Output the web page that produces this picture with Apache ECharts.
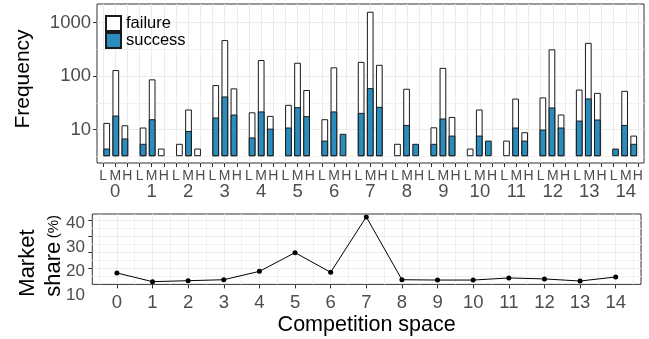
<!DOCTYPE html>
<html><head><meta charset="utf-8">
<script src="https://cdn.jsdelivr.net/npm/echarts@6/dist/echarts.min.js"></script>
<style>html,body{margin:0;padding:0;background:#fff}#c{width:649px;height:339px}</style>
</head><body><div id="c"></div>
<script>
// ---- data ----
const groups = ['0','1','2','3','4','5','6','7','8','9','10','11','12','13','14'];
const levels = ['L','M','H'];
// top of the white (failure) bar per group, for levels L, M, H (null = no white part)
const failureL = [13.3, 10.9, 5.4, 68, 21, 29, 15.6, 185, 5.4, 11.0, 4.4, 6.2, 40, 56, null];
const failureM = [130, 87, 23.7, 473, 200, 178, 146, 1607, 58, 143, 23.7, 38, 317, 421, 53];
const failureH = [12.0, 4.4, 4.4, 59, 18, 55, null, 163, null, 17.2, null, 8.9, 19.1, 48.6, 7.7];
// top of the blue (success) bar per group
const successL = [4.4, 5.4, null, 16.8, 7.1, 10.9, 6.2, 20.5, null, 5.4, null, null, 10.0, 14.7, 4.4];
const successM = [18.3, 15.6, 9.4, 41.6, 21.8, 26.2, 21.8, 59.6, 12.2, 16.1, 7.7, 10.9, 25.9, 38.2, 12.2];
const successH = [6.8, null, null, 19.1, 10.4, 17.8, 8.3, 26.6, 5.4, 7.7, 6.2, 6.2, 10.9, 15.4, 5.4];
// market share (%) per competition space
const marketShare = [7.1, 1.7, 2.3, 2.9, 8.1, 19.7, 7.5, 41.9, 2.9, 2.7, 2.7, 4.0, 3.4, 2.1, 4.6];
// tick labels
const freqTicks = [10, 100, 1000];
const shareTicks = [10, 20, 30, 40];

// ---- build ----
const FONT = '"Liberation Sans", Arial, Helvetica, sans-serif';
const failureByLevel = [failureL, failureM, failureH];
const successByLevel = [successL, successM, successH];
const cats = [];
const failureData = [];
const successData = [];
groups.forEach((g, gi) => {
  levels.forEach((l, li) => {
    cats.push(l + g);
    const x = gi * 4 + li;
    const f = failureByLevel[li][gi];
    const s = successByLevel[li][gi];
    if (f != null) failureData.push([x, f]);
    if (s != null) successData.push([x, s]);
  });
});
const groupIdx = groups.map((g, i) => i);
const halfIdx = groups.map((g, i) => i - 0.5).concat([groups.length - 0.5]);
const freqMinor = freqTicks.map(t => t / Math.sqrt(10));
const shareMinor = shareTicks.map(t => t - 5);

const tickLine = {color: '#333333', width: 1};
const major = {color: '#EBEBEB', width: 1};
const minor = {color: '#F1F1F1', width: 1};
const grey = '#4D4D4D';
const noLine = {show: false, onZero: false};

const chart = echarts.init(document.getElementById('c'));
chart.setOption({
  animation: false,
  textStyle: {fontFamily: FONT},
  grid: [
    {left: 97, top: 4, width: 547, height: 159, show: true, borderColor: '#333333', borderWidth: 1},
    {left: 92.3, top: 214, width: 548.7, height: 70.4, show: true, borderColor: '#333333', borderWidth: 1},
    {left: 92.3, top: 214, width: 548.7, height: 86.4, show: false}
  ],
  legend: {
    data: ['failure', 'success'], orient: 'vertical', left: 105, top: 15, padding: 0,
    itemWidth: 15, itemHeight: 15, itemGap: 0, icon: 'rect', selectedMode: false,
    textStyle: {fontSize: 16.5, color: '#000', lineHeight: 15, fontFamily: FONT}
  },
  xAxis: [
    {gridIndex: 0, type: 'category', data: cats, boundaryGap: true, position: 'bottom',
     axisLine: noLine,
     axisTick: {show: true, alignWithLabel: true, interval: 0, length: 4, lineStyle: tickLine},
     axisLabel: {interval: 0, margin: 7, color: grey,
       formatter: (v, i) => {
         const li = i % 3, gi = Math.floor(i / 3);
         return li === 1 ? '{a|' + levels[li] + '}\n{b|' + groups[gi] + '}' : '{a|' + levels[li] + '}';
       },
       rich: {a: {fontSize: 14, lineHeight: 13, color: grey, fontFamily: FONT},
              b: {fontSize: 18.5, lineHeight: 18, color: grey, fontFamily: FONT}}},
     splitLine: {show: true, alignWithLabel: true, interval: 0, lineStyle: major}},
    {gridIndex: 0, type: 'value', min: -1.07, max: 59.13, show: false, axisLine: noLine},
    {gridIndex: 1, type: 'value', min: -0.69, max: 14.71,
     axisLine: noLine,
     axisTick: {show: true, customValues: groupIdx, length: 4, lineStyle: tickLine},
     axisLabel: {customValues: groupIdx, formatter: v => groups[Math.round(v)], fontSize: 18.5, lineHeight: 18, margin: 10, color: grey},
     splitLine: {show: true, lineStyle: major},
     name: 'Competition space', nameLocation: 'middle', nameGap: 29,
     nameTextStyle: {fontSize: 21.5, lineHeight: 21, color: '#000', fontFamily: FONT}},
    {gridIndex: 1, type: 'value', min: -0.69, max: 14.71,
     axisLine: noLine, axisTick: {show: false, customValues: halfIdx}, axisLabel: {show: false},
     splitLine: {show: true, lineStyle: minor}},
    {gridIndex: 2, type: 'value', show: false, axisLine: noLine}
  ],
  yAxis: [
    {gridIndex: 0, type: 'log', min: 2.36, max: 2244, startValue: 3.1623, position: 'left',
     axisLine: noLine,
     axisTick: {show: true, customValues: freqTicks, length: 4, lineStyle: tickLine},
     axisLabel: {customValues: freqTicks, formatter: v => String(Math.round(v)), fontSize: 18.5, margin: 6, color: grey},
     splitLine: {show: true, lineStyle: major},
     name: 'Frequency', nameLocation: 'middle', nameGap: 63,
     nameTextStyle: {fontSize: 21, lineHeight: 21, color: '#000', fontFamily: FONT, padding: [0, 0, 0, 9]}},
    {gridIndex: 0, type: 'log', min: 2.36, max: 2244, position: 'left',
     axisLine: noLine, axisTick: {show: false, customValues: freqMinor}, axisLabel: {show: false},
     splitLine: {show: true, lineStyle: minor}},
    {gridIndex: 1, type: 'value', min: 0, max: 43.7, position: 'left',
     axisLine: noLine,
     axisTick: {show: true, customValues: shareTicks, length: 4, lineStyle: tickLine},
     axisLabel: {show: false},
     splitLine: {show: true, lineStyle: major}},
    {gridIndex: 1, type: 'value', min: 0, max: 43.7, position: 'left',
     axisLine: noLine, axisTick: {show: false, customValues: shareMinor}, axisLabel: {show: false},
     splitLine: {show: true, lineStyle: minor}},
    {gridIndex: 2, type: 'value', min: 8, max: 44, position: 'left',
     axisLine: noLine, axisTick: {show: false},
     axisLabel: {customValues: shareTicks, formatter: v => String(Math.round(v)), fontSize: 17, margin: 7.3, color: grey},
     splitLine: {show: false}}
  ],
  graphic: [{
    type: 'text', x: 14.7, y: 296.7, rotation: Math.PI / 2, silent: true,
    style: {
      text: '{m|Market}\n{m|share} {p|(%)}',
      align: 'left', verticalAlign: 'top',
      rich: {m: {fontSize: 22, lineHeight: 26, fill: '#000', fontFamily: FONT},
             p: {fontSize: 15, lineHeight: 26, fill: '#000', fontFamily: FONT}}
    }
  }],
  series: [
    {name: 'failure', type: 'bar', xAxisIndex: 1, yAxisIndex: 0, barWidth: 6.7, barGap: '-100%',
     itemStyle: {color: '#FFFFFF', borderColor: '#1A1A1A', borderWidth: 1}, data: failureData},
    {name: 'success', type: 'bar', xAxisIndex: 1, yAxisIndex: 0, barWidth: 6.7, barGap: '-100%',
     itemStyle: {color: '#2B8CBE', borderColor: '#1A1A1A', borderWidth: 1}, data: successData},
    {name: 'share', type: 'line', xAxisIndex: 2, yAxisIndex: 2,
     data: marketShare.map((v, i) => [i, v]),
     lineStyle: {color: '#000', width: 1}, itemStyle: {color: '#000'}, symbol: 'circle', symbolSize: 5}
  ]
});
</script></body></html>
